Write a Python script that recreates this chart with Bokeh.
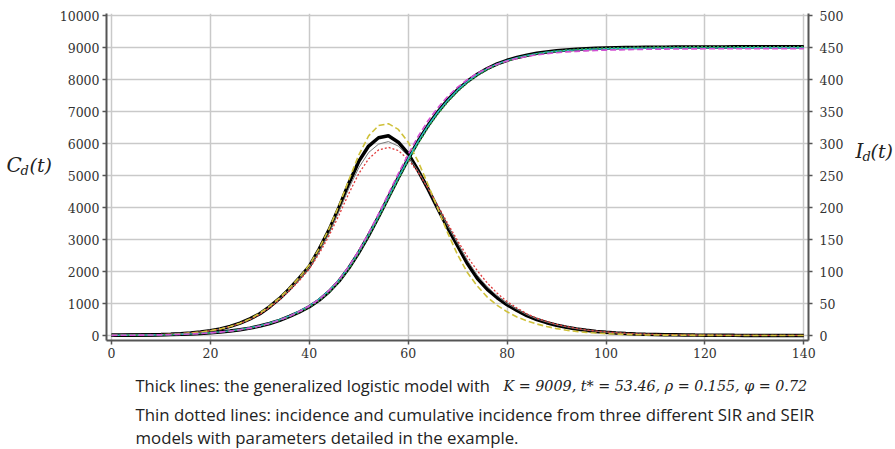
from bokeh.plotting import figure
from bokeh.models import Range1d, LinearAxis, Label, FixedTicker
from bokeh.layouts import row, column
from bokeh.embed import file_html
from bokeh.resources import INLINE

# ---- data ----
days = list(range(0, 141, 2))

inc_logistic = [0.3, 0.4, 0.6, 0.8, 1.1, 1.5, 2.1, 2.9, 4.0, 5.5, 7.6, 10.4, 14.2, 19.3, 26, 34, 45, 58, 73, 90,
                108, 135, 165, 200, 238, 272, 296, 309, 312, 302, 284, 258, 229, 198, 168, 140, 112, 89, 72, 59,
                48, 39, 31, 25, 20, 16, 12.8, 10.2, 8.1, 6.4, 5.1, 4.0, 3.2, 2.5, 2.0, 1.6, 1.2, 1.0, 0.8, 0.6,
                0.5, 0.4, 0.3, 0.24, 0.19, 0.15, 0.12, 0.09, 0.07, 0.06, 0.05]
inc_sir_a = [0.3, 0.4, 0.5, 0.7, 1.0, 1.4, 2.0, 2.8, 3.9, 5.4, 7.5, 10.3, 14.1, 19.3, 26, 35, 46, 59, 74, 91,
             110, 136, 167, 203, 243, 282, 312, 328, 331, 322, 302, 272, 236, 198, 160, 126, 98, 77, 60, 47,
             37, 29, 23, 18, 14, 10.8, 8.3, 6.4, 4.9, 3.8, 2.9, 2.2, 1.7, 1.3, 1.0, 0.8, 0.6, 0.45, 0.35, 0.27,
             0.2, 0.15, 0.12, 0.09, 0.07, 0.05, 0.04, 0.03, 0.02, 0.02, 0.01]
inc_sir_b = [0.3, 0.4, 0.6, 0.8, 1.1, 1.5, 2.1, 2.9, 4.0, 5.5, 7.5, 10.2, 13.9, 18.8, 25, 33, 44, 56, 70, 86,
             104, 128, 156, 188, 222, 253, 276, 290, 294, 289, 275, 255, 230, 203, 175, 148, 123, 101, 82, 66,
             53, 43, 34, 27, 22, 17.5, 14, 11.1, 8.8, 7.0, 5.6, 4.4, 3.5, 2.8, 2.2, 1.7, 1.4, 1.1, 0.9, 0.7,
             0.55, 0.44, 0.35, 0.28, 0.22, 0.17, 0.14, 0.11, 0.09, 0.07, 0.05]
inc_seir = [0.3, 0.4, 0.6, 0.8, 1.1, 1.5, 2.1, 2.9, 4.0, 5.5, 7.5, 10.3, 14.0, 19.0, 25.5, 33.5, 44.5, 57, 71.5, 88,
            106, 131, 160, 194, 230, 262, 286, 299, 303, 296, 280, 257, 230, 200, 171, 144, 117, 94, 76, 62,
            50, 41, 32.5, 26, 21, 16.7, 13.4, 10.6, 8.4, 6.7, 5.3, 4.2, 3.3, 2.6, 2.1, 1.6, 1.3, 1.0, 0.8, 0.65,
            0.52, 0.42, 0.33, 0.26, 0.2, 0.16, 0.13, 0.1, 0.08, 0.06, 0.05]

cum_logistic = [5, 7, 9, 12, 16, 21, 28, 37, 49, 64, 84, 108, 139, 178, 230, 295, 375, 475, 595, 735,
                900, 1105, 1370, 1700, 2110, 2590, 3130, 3710, 4320, 4930, 5520, 6070, 6560, 6990, 7360, 7680,
                7945, 8165, 8345, 8490, 8600, 8690, 8760, 8818, 8862, 8896, 8923, 8944, 8960, 8973, 8983, 8991,
                8997, 9002, 9006, 9009, 9011, 9013, 9015, 9016, 9017, 9018, 9019, 9020, 9020, 9021, 9021, 9022,
                9022, 9022, 9023]
cum_sir_a = [5, 7, 9, 12, 16, 21, 28, 37, 48, 63, 83, 107, 138, 178, 230, 296, 378, 480, 603, 748,
             920, 1130, 1400, 1740, 2160, 2650, 3200, 3800, 4430, 5060, 5660, 6220, 6710, 7120, 7470, 7760,
             8000, 8195, 8355, 8480, 8580, 8660, 8722, 8770, 8808, 8838, 8862, 8880, 8895, 8907, 8917, 8925,
             8932, 8938, 8943, 8947, 8950, 8953, 8955, 8957, 8959, 8960, 8961, 8962, 8963, 8963, 8964, 8964,
             8965, 8965, 8965]
cum_sir_b = [5, 7, 9, 12, 16, 21, 28, 38, 50, 66, 87, 113, 146, 188, 242, 305, 390, 492, 615, 760,
             930, 1140, 1405, 1735, 2140, 2615, 3150, 3725, 4330, 4935, 5520, 6065, 6555, 6985, 7355, 7675,
             7940, 8160, 8340, 8485, 8595, 8683, 8752, 8808, 8850, 8882, 8907, 8926, 8941, 8953, 8962, 8969,
             8974, 8978, 8981, 8983, 8985, 8986, 8987, 8988, 8988, 8989, 8989, 8989, 8990, 8990, 8990, 8990,
             8990, 8990, 8990]
cum_seir = [5, 7, 9, 12, 16, 21, 28, 37, 49, 64, 84, 108, 138, 177, 228, 292, 371, 470, 588, 726,
            888, 1090, 1350, 1675, 2075, 2570, 3100, 3670, 4270, 4870, 5450, 5995, 6490, 6925, 7300, 7625,
            7900, 8125, 8310, 8460, 8575, 8668, 8742, 8802, 8850, 8887, 8917, 8940, 8958, 8972, 8983, 8992,
            8999, 9004, 9008, 9011, 9014, 9016, 9018, 9019, 9020, 9021, 9022, 9023, 9023, 9024, 9024, 9024,
            9025, 9025, 9025]

x_ticks = [0, 20, 40, 60, 80, 100, 120, 140]
left_ticks = [0, 1000, 2000, 3000, 4000, 5000, 6000, 7000, 8000, 9000, 10000]
right_ticks = [0, 50, 100, 150, 200, 250, 300, 350, 400, 450, 500]

# ---- layout geometry (page pixels) ----
W, H = 895, 449
LEFT_W, RIGHT_W = 56, 43
MAIN_W = W - LEFT_W - RIGHT_W
MAIN_H = 368
BOTTOM_H = H - MAIN_H

# ---- main chart ----
p_main = figure(width=MAIN_W, height=MAIN_H, output_backend="svg", toolbar_location=None,
                x_range=Range1d(-1.01, 140.95), y_range=Range1d(-156, 10062.5),
                min_border_left=50, min_border_right=44, min_border_top=13, min_border_bottom=28,
                background_fill_color="white", border_fill_color="white")
p_main.outline_line_color = None
p_main.extra_y_ranges = {"inc": Range1d(-7.8, 503.125)}

AX_COL = "#555555"
LBL_COL = "#333333"
TICK_FONT = "DejaVu Serif"

def style_axis(ax, standoff):
    ax.axis_line_color = AX_COL
    ax.axis_line_width = 2
    ax.major_tick_line_color = AX_COL
    ax.major_tick_line_width = 1.5
    ax.major_tick_out = 4
    ax.major_tick_in = 0
    ax.minor_tick_line_color = None
    ax.major_label_text_font = TICK_FONT
    ax.major_label_text_font_size = "12.5px"
    ax.major_label_text_color = LBL_COL
    ax.major_label_standoff = standoff

style_axis(p_main.xaxis[0], 3)
p_main.xaxis[0].ticker = FixedTicker(ticks=x_ticks)
style_axis(p_main.yaxis[0], 3)
p_main.yaxis[0].ticker = FixedTicker(ticks=left_ticks)

rax = LinearAxis(y_range_name="inc", ticker=FixedTicker(ticks=right_ticks))
style_axis(rax, 7)
p_main.add_layout(rax, "right")

p_main.xgrid.ticker = FixedTicker(ticks=x_ticks)
p_main.ygrid.ticker = FixedTicker(ticks=left_ticks)
for g in (p_main.xgrid[0], p_main.ygrid[0]):
    g.grid_line_color = "#c9c9c9"
    g.grid_line_width = 1.5

# thick lines: generalized logistic model
p_main.line(days, cum_logistic, line_color="black", line_width=3.5)
p_main.line(days, inc_logistic, line_color="black", line_width=3.5, y_range_name="inc")

# thin lines: SIR / SEIR models
p_main.line(days, inc_seir, line_color="#7a7a7a", line_width=1, y_range_name="inc")
p_main.line(days, inc_sir_b, line_color="#e03a3a", line_width=1.3, line_dash="2 2", y_range_name="inc")
p_main.line(days, inc_sir_a, line_color="#cfc13a", line_width=1.6, line_dash="6 3", y_range_name="inc")
p_main.line(days, cum_sir_b, line_color="#2cc3cc", line_width=1.4)
p_main.line(days, cum_seir, line_color="#2f9e4a", line_width=1.6, line_dash="2 2")
p_main.line(days, cum_sir_a, line_color="#d24fd2", line_width=1.6, line_dash="6 3")

# ---- text panels ----
def text_panel(w, h):
    f = figure(width=w, height=h, output_backend="svg", toolbar_location=None,
               x_range=Range1d(0, w), y_range=Range1d(0, h),
               x_axis_location=None, y_axis_location=None,
               min_border_left=0, min_border_right=0, min_border_top=0, min_border_bottom=0,
               background_fill_color="white", border_fill_color="white")
    f.grid.visible = False
    f.outline_line_color = None
    return f

def lab(f, h, x, y, text, size, font, style="normal", color="#222222"):
    f.add_layout(Label(x=x, y=h - y, x_units="data", y_units="data", text=text,
                       text_font=font, text_font_size=size, text_font_style=style,
                       text_color=color, text_align="left", text_baseline="middle"))

SERIF = "DejaVu Serif"
SANS = "Open Sans"

p_left = text_panel(LEFT_W, MAIN_H)
lab(p_left, MAIN_H, 6, 171, "C", "20px", SERIF, "italic")
lab(p_left, MAIN_H, 20, 177, "d", "13px", SERIF, "italic")
lab(p_left, MAIN_H, 29, 171, "(t)", "19px", SERIF, "italic")

p_right = text_panel(RIGHT_W, MAIN_H)
lab(p_right, MAIN_H, 3, 155, "I", "20px", SERIF, "italic")
lab(p_right, MAIN_H, 10, 161, "d", "13px", SERIF, "italic")
lab(p_right, MAIN_H, 18, 155, "(t)", "19px", SERIF, "italic")

p_bottom = text_panel(W, BOTTOM_H)
lab(p_bottom, BOTTOM_H, 135, 385 - MAIN_H, "Thick lines: the generalized logistic model with", "16.5px", SANS)
lab(p_bottom, BOTTOM_H, 503, 385 - MAIN_H, "K = 9009, t* = 53.46, ρ = 0.155, φ = 0.72", "14.3px", SERIF, "italic")
lab(p_bottom, BOTTOM_H, 135, 414 - MAIN_H,
    "Thin dotted lines: incidence and cumulative incidence from three different SIR and SEIR", "16.8px", SANS)
lab(p_bottom, BOTTOM_H, 135, 437 - MAIN_H, "models with parameters detailed in the example.", "16.8px", SANS)

p = column(row(p_left, p_main, p_right, spacing=0), p_bottom, spacing=0)

open("out.html", "w").write(file_html(p, INLINE))
